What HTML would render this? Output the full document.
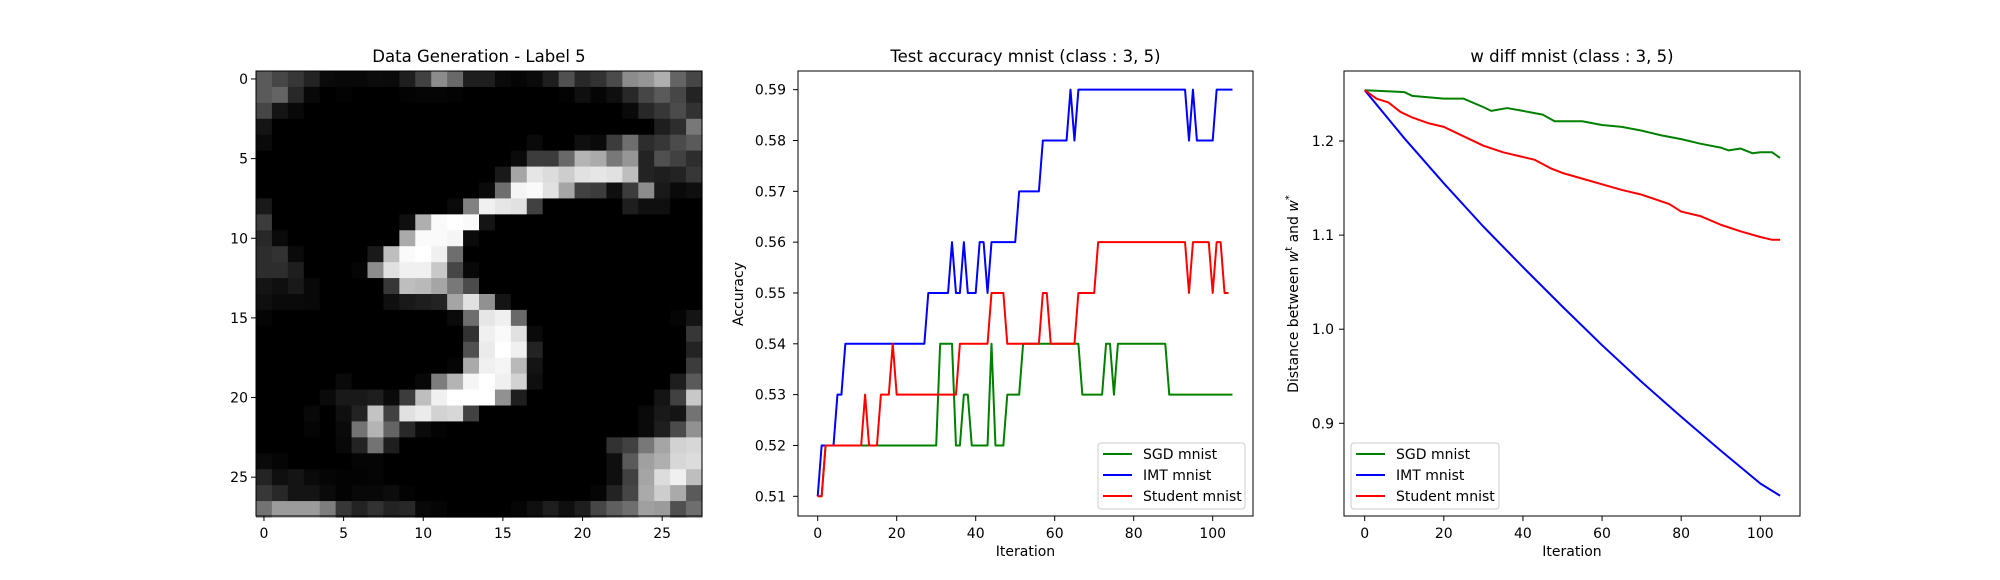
<!DOCTYPE html>
<html><head><meta charset="utf-8"><style>
html,body{margin:0;padding:0;background:#fff;}
svg{display:block;font-family:"DejaVu Sans","Liberation Sans",sans-serif;}
</style></head><body>
<svg id="fig" width="2000" height="580" viewBox="0 0 2000 580" xmlns="http://www.w3.org/2000/svg">
<rect width="2000" height="580" fill="#fff"/>
<g id="p1"></g>
<g id="p2"></g>
<g id="p3"></g>
</svg>
<script>
// ---- image data (28x28 grayscale) ----
const imgRows = [
"90,70,55,35,10,8,8,12,10,30,65,140,105,30,30,10,5,10,30,80,40,50,75,140,150,175,100,70",
"90,100,40,8,0,3,0,0,0,3,5,5,3,0,0,0,0,0,0,3,15,5,15,40,70,90,70,35",
"70,20,8,0,0,0,0,0,0,0,0,0,0,0,0,0,0,0,0,0,0,0,0,10,40,55,75,50",
"20,0,0,0,0,0,0,0,0,0,0,0,0,0,0,0,0,0,0,0,0,0,0,0,0,30,45,120",
"10,0,0,0,0,0,0,0,0,0,0,0,0,0,0,0,0,10,0,0,15,10,60,110,45,55,75,90",
"0,0,0,0,0,0,0,0,0,0,0,0,0,0,0,0,10,60,60,105,180,170,120,150,35,80,65,45",
"0,0,0,0,0,0,0,0,0,0,0,0,0,0,0,25,165,230,220,205,225,230,225,190,35,30,35,55",
"0,0,0,0,0,0,0,0,0,0,0,0,0,0,10,110,245,250,225,165,65,60,15,60,140,25,10,15",
"25,0,0,0,0,0,0,0,0,0,0,0,10,130,240,230,225,65,0,0,0,0,0,30,15,15,0,0",
"60,0,0,0,0,0,0,0,0,15,175,250,255,250,20,0,0,0,0,0,0,0,0,0,0,0,0,0",
"40,10,0,0,0,0,0,0,0,170,250,250,245,10,0,0,0,0,0,0,0,0,0,0,0,0,0,0",
"45,50,10,0,0,0,0,25,190,250,255,240,110,0,0,0,0,0,0,0,0,0,0,0,0,0,0,0",
"45,45,30,0,0,0,5,140,225,240,240,200,70,8,0,0,0,0,0,0,0,0,0,0,0,0,0,0",
"20,15,25,8,0,0,0,0,55,190,185,165,120,75,0,0,0,0,0,0,0,0,0,0,0,0,0,0",
"15,10,10,8,0,0,0,0,15,25,30,35,165,225,145,20,0,0,0,0,0,0,0,0,0,0,0,0",
"5,0,0,0,0,0,0,0,0,0,0,0,10,110,230,240,105,0,0,0,0,0,0,0,0,0,5,20",
"0,0,0,0,0,0,0,0,0,0,0,0,0,50,240,250,225,10,0,0,0,0,0,0,0,0,0,55",
"0,0,0,0,0,0,0,0,0,0,0,0,0,80,235,255,240,35,0,0,0,0,0,0,0,0,0,35",
"0,0,0,0,0,0,0,0,0,0,0,0,5,170,240,245,185,20,0,0,0,0,0,0,0,0,0,60",
"0,0,0,0,0,10,0,0,0,0,8,125,180,245,255,240,210,15,0,0,0,0,0,0,0,0,30,90",
"0,0,0,0,10,25,25,30,10,60,190,240,255,255,255,145,30,0,0,0,0,0,0,0,0,20,65,200",
"0,0,0,8,0,15,35,195,65,225,235,210,215,65,0,0,0,0,0,0,0,0,0,0,10,25,20,115",
"0,0,0,5,0,10,115,180,100,40,10,3,0,0,0,0,0,0,0,0,0,0,0,0,10,30,75,145",
"0,0,0,0,0,8,35,115,30,0,0,0,0,0,0,0,0,0,0,0,0,0,50,65,120,165,210,215",
"10,5,0,0,0,0,5,5,0,0,0,0,0,0,0,0,0,0,0,0,0,0,15,90,160,175,215,220",
"35,15,20,10,5,3,3,5,0,0,0,0,0,0,0,0,0,0,0,0,0,0,15,65,165,220,240,190",
"55,40,20,20,10,3,8,8,12,3,0,0,0,0,0,0,0,0,0,0,0,5,35,70,170,205,170,90",
"115,155,155,155,125,55,35,50,35,40,8,5,0,0,0,0,5,15,30,15,30,70,95,110,160,155,80,110"
];
const imgTicks = [0,5,10,15,20,25];

// ---- accuracy chart data ----
const iters = Array.from({length:106},(_, i)=>i);
const accTicks = [0.51,0.52,0.53,0.54,0.55,0.56,0.57,0.58,0.59];
const iterTicks = [0,20,40,60,80,100];
// run-length encoded [value, count]
const sgdRuns = [[0.51,2],[0.52,29],[0.54,4],[0.52,2],[0.53,2],[0.52,5],[0.54,1],[0.52,3],[0.53,4],[0.54,15],[0.53,6],[0.54,2],[0.53,1],[0.54,13],[0.53,17]];
const imtRuns = [[0.51,1],[0.52,4],[0.53,2],[0.54,21],[0.55,6],[0.56,1],[0.55,2],[0.56,1],[0.55,3],[0.56,2],[0.55,1],[0.56,7],[0.57,6],[0.58,7],[0.59,1],[0.58,1],[0.59,28],[0.58,1],[0.59,1],[0.58,5],[0.59,5]];
const stuRuns = [[0.51,2],[0.52,10],[0.53,1],[0.52,3],[0.53,3],[0.54,1],[0.53,16],[0.54,8],[0.55,4],[0.54,9],[0.55,2],[0.54,7],[0.55,5],[0.56,23],[0.55,1],[0.56,5],[0.55,1],[0.56,2],[0.55,2]];

// ---- w diff chart data ----
const wTicks = [0.9,1.0,1.1,1.2];
const sgdWx = [0,10,12,20,25,30,32,36,40,45,48,55,60,65,70,75,80,85,90,92,95,98,100,103,105];
const sgdWy = [1.254,1.252,1.248,1.245,1.245,1.236,1.232,1.235,1.232,1.228,1.221,1.221,1.217,1.215,1.211,1.206,1.202,1.197,1.193,1.190,1.192,1.187,1.188,1.188,1.182];
const stuWx = [0,3,6,9,12,16,20,25,30,35,40,43,47,50,55,60,65,70,77,80,85,90,95,100,103,105];
const stuWy = [1.254,1.245,1.241,1.231,1.225,1.219,1.215,1.205,1.195,1.188,1.183,1.180,1.171,1.166,1.160,1.154,1.148,1.143,1.133,1.125,1.120,1.111,1.104,1.098,1.095,1.095];
const imtWx = [0,10,20,30,40,50,60,70,80,90,100,105];
const imtWy = [1.254,1.203,1.155,1.109,1.066,1.024,0.983,0.944,0.907,0.871,0.836,0.823];

const NS="http://www.w3.org/2000/svg";
function mk(tag, attrs, parent){const e=document.createElementNS(NS,tag);for(const k in attrs)e.setAttribute(k,attrs[k]);parent.appendChild(e);return e;}
function expand(runs){const o=[];runs.forEach(r=>{for(let i=0;i<r[1];i++)o.push(r[0]);});return o;}

// ===== Panel 1 =====
const p1=document.getElementById('p1');
const L1=256,T1=71,S1=(702-256)/28;
imgRows.forEach((row,r)=>{row.split(',').forEach((v,c)=>{
  const g=+v;
  const cell=mk('rect',{x:L1+c*S1,y:T1+r*S1,width:S1+0.6,height:S1+0.6,fill:`rgb(${g},${g},${g})`},p1);
  
  
});});
const f1=mk('rect',{x:L1,y:T1,width:446,height:445,fill:'none',stroke:'#000','stroke-width':1},p1);


imgTicks.forEach(t=>{
  const x=L1+(t+0.5)*S1,y=T1+(t+0.5)*S1;
  mk('line',{x1:x,x2:x,y1:516,y2:521,stroke:'#000'},p1);
  const tx=mk('text',{x:x,y:538,'font-size':14,'text-anchor':'middle'},p1);tx.textContent=t;
  
  
  mk('line',{x1:251,x2:256,y1:y,y2:y,stroke:'#000'},p1);
  const ty=mk('text',{x:248,y:y+5,'font-size':14,'text-anchor':'end'},p1);ty.textContent=t;
  
  
});
const t1=mk('text',{x:479,y:62,'font-size':16.5,'text-anchor':'middle'},p1);t1.textContent='Data Generation - Label 5';



// ===== generic line chart =====
function chart(g,box,xs,ys,yTicks,yFmt,title,ylabel,ylabX,yTickR,series,leg){
  const X=v=>xs.p0+(v-xs.v0)*xs.k, Y=v=>ys.p0+(v-ys.v0)*ys.k;
  series.forEach(s=>{
    const d=s.x.map((xv,i)=>(i?'L':'M')+X(xv).toFixed(2)+','+Y(s.y[i]).toFixed(2)).join('');
    const p=mk('path',{d:d,fill:'none',stroke:s.c,'stroke-width':2,'stroke-linejoin':'round'},g);
    
    
  });
  const fr=mk('rect',{x:box.l,y:box.t,width:box.r-box.l,height:box.b-box.t,fill:'none',stroke:'#000','stroke-width':1},g);
  
  
  iterTicks.forEach(t=>{const x=X(t);
    mk('line',{x1:x,x2:x,y1:box.b,y2:box.b+5,stroke:'#000'},g);
    const tx=mk('text',{x:x,y:538,'font-size':14,'text-anchor':'middle'},g);tx.textContent=t;
    
    
  });
  yTicks.forEach(t=>{const y=Y(t);
    mk('line',{x1:box.l-5,x2:box.l,y1:y,y2:y,stroke:'#000'},g);
    const ty=mk('text',{x:yTickR,y:y+5,'font-size':14,'text-anchor':'end'},g);ty.textContent=yFmt(t);
    
    
  });
  const cx=(box.l+box.r)/2;
  const tt=mk('text',{x:cx,y:62,'font-size':16.5,'text-anchor':'middle'},g);tt.textContent=title;
  
  
  const xl=mk('text',{x:cx,y:556,'font-size':14,'text-anchor':'middle'},g);xl.textContent='Iteration';
  
  
  const yl=mk('text',{x:ylabX,y:294,'font-size':14,'text-anchor':'middle',transform:`rotate(-90 ${ylabX} 294)`},g);
  yl.innerHTML=ylabel;
  
  
  const lg=mk('g',{},g);
  
  
  mk('rect',{x:leg.x,y:443,width:leg.w,height:66,rx:3,fill:'#fff','fill-opacity':0.8,stroke:'#ccc'},lg);
  series.forEach((s,i)=>{const y=454+i*21;
    const e=mk('g',{},lg);
    
    
    mk('line',{x1:leg.x+5,x2:leg.x+34,y1:y,y2:y,stroke:s.c,'stroke-width':2},e);
    const lt=mk('text',{x:leg.x+45,y:y+5,'font-size':14},e);lt.textContent=s.label;
  });
}

const sgdAcc=expand(sgdRuns), imtAcc=expand(imtRuns), stuAcc=expand(stuRuns);
chart(document.getElementById('p2'),{l:798,t:71,r:1253,b:516},
  {v0:0,p0:817.7,k:3.95},{v0:0.51,p0:496.3,k:-5083},
  accTicks,v=>v.toFixed(2),'Test accuracy mnist (class : 3, 5)','Accuracy',743,786,
  [{x:iters.slice(0,sgdAcc.length),y:sgdAcc,c:'#008000',label:'SGD mnist',name:'sgd-accuracy-line'},
   {x:iters.slice(0,imtAcc.length),y:imtAcc,c:'#0000ff',label:'IMT mnist',name:'imt-accuracy-line'},
   {x:iters.slice(0,stuAcc.length),y:stuAcc,c:'#ff0000',label:'Student mnist',name:'student-accuracy-line'}],{x:1098,w:147});

chart(document.getElementById('p3'),{l:1344,t:71,r:1800,b:516},
  {v0:0,p0:1364.7,k:3.956},{v0:1.2,p0:141,k:-941},
  wTicks,v=>v.toFixed(1),'w diff mnist (class : 3, 5)',
  'Distance between <tspan font-style="italic">w</tspan><tspan font-size="10" dy="-6">t</tspan><tspan dy="6"> and </tspan><tspan font-style="italic">w</tspan><tspan font-size="10" dy="-6">*</tspan>',1298,1334,
  [{x:sgdWx,y:sgdWy,c:'#008000',label:'SGD mnist',name:'sgd-wdiff-line'},
   {x:imtWx,y:imtWy,c:'#0000ff',label:'IMT mnist',name:'imt-wdiff-line'},
   {x:stuWx,y:stuWy,c:'#ff0000',label:'Student mnist',name:'student-wdiff-line'}],{x:1351,w:148});
</script>
</body></html>
